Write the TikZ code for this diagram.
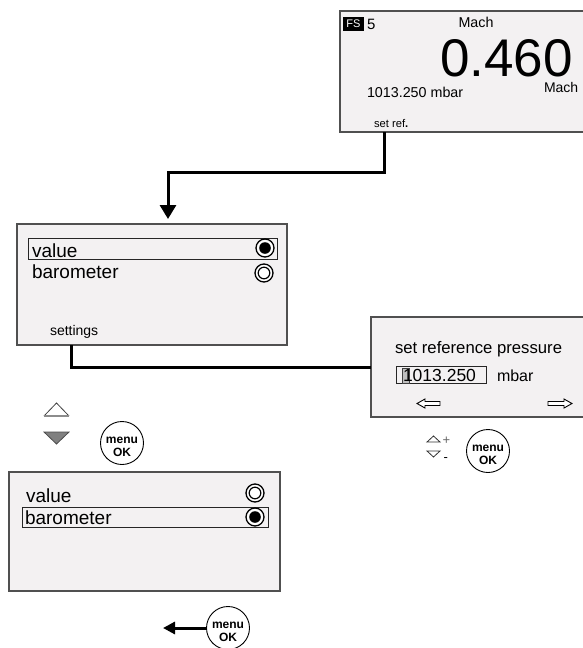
\documentclass[tikz,border=0pt]{standalone}
\usepackage{fontspec}
\setmainfont{Liberation Sans}
\usetikzlibrary{arrows.meta}
\definecolor{panel}{HTML}{F3F1F2}
\definecolor{edge}{HTML}{505050}
\begin{document}
\begin{tikzpicture}[x=1pt,y=-1pt,
  panelbox/.style={draw=edge, line width=1.3pt, fill=panel, inner sep=0pt, outer sep=0pt, anchor=north west},
  hl/.style={draw=black!85, line width=0.9pt, inner sep=0pt, outer sep=0pt, anchor=north west},
  conn/.style={line width=3pt, black},
  txt/.style={inner sep=0pt, outer sep=0pt, anchor=base west},
  radio/.style={circle, draw=black, line width=1.3pt, fill=white, minimum size=18pt, inner sep=0pt},
  okbtn/.style={circle, draw=black, line width=0.9pt, fill=white, minimum size=43pt, inner sep=0pt},
  oktext/.style={inner sep=0pt, align=center, font=\fontsize{12}{13}\selectfont\bfseries},
  big/.style={font=\fontsize{19}{19}\selectfont},
]
\useasboundingbox (0,0) rectangle (582,648);

% ---------- top display ----------
\node[panelbox, minimum width=258pt, minimum height=121pt] (top) at (340,11) {};
\node[fill=black, text=white, inner sep=0pt, minimum width=21pt, minimum height=14pt,
      font=\fontsize{11}{11}\selectfont] (fs) at (353.5,24) {FS};
\node[txt, font=\fontsize{15}{15}\selectfont] (fsn) at (367,29) {5};
\node[inner sep=0pt, anchor=base, font=\fontsize{14.3}{14.3}\selectfont] (mach1) at (476,27) {Mach};
\node[txt, text depth=0pt, font=\fontsize{53}{53}\selectfont] (val) at (440,76) {0.460};
\node[txt, text height=10pt, font=\fontsize{14}{14}\selectfont] (mach2) at (544,92) {Mach};
\node[txt, font=\fontsize{14.3}{14.3}\selectfont] (pres) at (367,97) {1013.250 mbar};
\node[txt, font=\fontsize{11.2}{11.2}\selectfont] (setref) at (374,127) {set ref\textbf{.}};

% ---------- menu box 1 ----------
\node[panelbox, minimum width=270pt, minimum height=121pt] (box2) at (17,224) {};
\node[hl, minimum width=249pt, minimum height=21pt] (hl2) at (28,238) {};
\node[txt, big] (v2) at (32,257) {value};
\node[txt, big] (b2) at (32,278) {barometer};
\node[radio] (r2a) at (265,248) {};
\fill (r2a.center) circle (5.8pt);
\node[radio] (r2b) at (264,273) {};
\draw[line width=1.2pt] (r2b.center) circle (5.8pt);
\node[txt, font=\fontsize{14}{14}\selectfont] (set) at (50,335) {settings};

% ---------- reference pressure box ----------
\node[panelbox, minimum width=220pt, minimum height=100pt] (box3) at (371,317) {};
\node[txt, font=\fontsize{16.7}{16.7}\selectfont] (srp) at (395,353) {set reference pressure};
\node[hl, minimum width=90pt, minimum height=17pt] (field) at (396,366) {};
\node[draw=black!75, fill=black!25, line width=0.8pt, inner sep=0pt, anchor=north west,
      minimum width=7pt, minimum height=15pt] (cursor) at (402,367.5) {};
\node[txt, font=\fontsize{17.5}{17.5}\selectfont] (num) at (403,381) {1013.250};
\node[txt, font=\fontsize{16}{16}\selectfont] (unit) at (497,381) {mbar};
\draw[line width=0.9pt, fill=white] (417,403.5) -- (425,399) -- (425,401.5) -- (440,401.5)
   -- (440,405.5) -- (425,405.5) -- (425,408) -- cycle;
\draw[line width=0.9pt, fill=white] (572,403.5) -- (564,399) -- (564,401.5) -- (548,401.5)
   -- (548,405.5) -- (564,405.5) -- (564,408) -- cycle;

% buttons under reference box
\draw[line width=0.8pt, black!80] (427,442) -- (440,442) -- (433.5,436) -- cycle;
\draw[line width=0.8pt, black!80] (427,451) -- (440,451) -- (433.5,457) -- cycle;
\node[txt, text=black!60, font=\fontsize{13}{13}\selectfont] (plus) at (442.5,444) {+};
\node[txt, font=\fontsize{13}{13}\selectfont] (minus) at (443.5,461) {-};
\node[okbtn] (ok2) at (488,451) {};
\node[oktext] (ok2t) at (488,455) {menu\\OK};

% ---------- left buttons ----------
\draw[line width=0.8pt, black!75] (44,416) -- (56.5,403) -- (69,416);
\draw[line width=2pt, black!45] (44,415.5) -- (69,415.5);
\draw[line width=0.8pt, black!70, fill=black!50] (44,432) -- (69,432) -- (56.5,444) -- cycle;
\node[okbtn] (ok1) at (122,443) {};
\node[oktext] (ok1t) at (122,447) {menu\\OK};

% ---------- menu box 2 ----------
\node[panelbox, minimum width=271pt, minimum height=119pt] (box4) at (9,472) {};
\node[hl, minimum width=246pt, minimum height=20pt] (hl4) at (22,507) {};
\node[txt, big] (v4) at (26,502) {value};
\node[txt, big] (b4) at (25,524) {barometer};
\node[radio] (r4a) at (255,493) {};
\draw[line width=1.2pt] (r4a.center) circle (5.8pt);
\node[radio] (r4b) at (255,517) {};
\fill (r4b.center) circle (5.8pt);

\node[okbtn] (ok3) at (228,628) {};
\node[oktext] (ok3t) at (228,632) {menu\\OK};

% ---------- connectors ----------
\coordinate (turn) at (168,172);
\draw[conn, -{Triangle[length=14pt,width=16pt]}, shorten >=5pt]
  ([xshift=44.5pt]top.south west) |- (turn) -- (turn |- box2.north);
\draw[conn] ([xshift=54.5pt]box2.south west) |- (box3.west);
\coordinate (back) at (163,628);
\draw[conn, -{Triangle[length=12pt,width=12pt]}] (ok3.west) -- (back);
\end{tikzpicture}
\end{document}
